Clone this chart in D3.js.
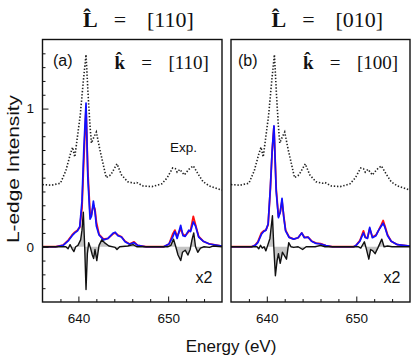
<!DOCTYPE html>
<html lang="en">
<head>
  <meta charset="UTF-8" />
  <title>L-edge Intensity</title>
  <script src="https://d3js.org/d3.v7.min.js"></script>
  <style>
    body { margin: 0; background: #fff; }
    svg { display: block; background: #fff; }
    .sans { font-family: "Liberation Sans", Arial, sans-serif; fill: #111; }
    .serif { font-family: "Liberation Serif", "Times New Roman", serif; fill: #111; }
    .tick text { font-family: "Liberation Sans", Arial, sans-serif; font-size: 13.5px; fill: #111; }
    .tick line { stroke: #111; stroke-width: 1; }
  </style>
</head>
<body>
<svg id="chart" width="415" height="359"></svg>
<script>
  // energies (eV) and intensities
  const expData = [
    [636,0.45],[637,0.445],[638,0.46],[638.6,0.55],[639.1,0.67],[639.35,0.72],[639.6,0.65],
    [640.2,0.95],[640.55,1.2],[640.85,1.39],[641.1,1.08],[641.3,0.87],[641.45,0.75],[641.7,0.79],
    [642.0,0.83],[642.4,0.7],[643.1,0.5],[643.6,0.52],[644.3,0.6],[644.8,0.52],[645.5,0.47],
    [646.2,0.46],[646.5,0.465],[647.2,0.44],[648.2,0.435],[649.3,0.455],[649.9,0.5],[650.5,0.57],
    [650.8,0.565],[651.0,0.54],[651.3,0.56],[651.8,0.52],[652.3,0.56],[652.8,0.585],[653.3,0.53],
    [653.9,0.47],[654.6,0.44],[656,0.41]
  ];

  const blueA = [
    [636,0],[637.5,0],[638.3,0.01],[638.9,0.045],[639.3,0.08],[639.6,0.1],[639.9,0.115],[640.15,0.145],
    [640.4,0.33],[640.6,0.7],[640.85,1.04],[641.05,0.5],[641.3,0.2],[641.45,0.22],[641.67,0.33],
    [641.85,0.25],[642.0,0.15],[642.3,0.085],[642.8,0.05],[643.3,0.06],[643.9,0.1],[644.1,0.105],
    [644.4,0.08],[644.8,0.07],[645.2,0.036],[645.7,0.018],[646.2,0.03],[646.6,0.01],[647.5,0],
    [649.5,0],[650.1,0.02],[650.5,0.07],[650.75,0.11],[651.0,0.06],[651.4,0.155],[651.65,0.08],
    [651.9,0.075],[652.3,0.12],[652.5,0.11],[652.8,0.18],[653.05,0.15],[653.4,0.07],[653.9,0.04],
    [654.6,0.02],[656,0.005]
  ];
  const redA = [
    [636,0],[637.5,0],[638.3,0.012],[638.9,0.05],[639.3,0.085],[639.6,0.105],[639.9,0.12],[640.15,0.14],
    [640.4,0.28],[640.6,0.62],[640.85,1.0],[641.05,0.55],[641.3,0.24],[641.45,0.23],[641.67,0.3],
    [641.85,0.27],[642.0,0.18],[642.3,0.09],[642.8,0.055],[643.3,0.06],[643.9,0.095],[644.1,0.1],
    [644.4,0.085],[644.8,0.072],[645.2,0.04],[645.7,0.02],[646.2,0.035],[646.6,0.01],[647.5,0],
    [649.5,0],[650.1,0.02],[650.5,0.09],[650.75,0.12],[651.0,0.075],[651.4,0.13],[651.65,0.09],
    [651.9,0.08],[652.3,0.11],[652.5,0.12],[652.8,0.22],[653.05,0.16],[653.4,0.075],[653.9,0.04],
    [654.6,0.02],[656,0.005]
  ];
  const diffA = [
    [636,0],[638.6,0],[638.85,-0.015],[639.07,0.015],[639.3,-0.015],[639.5,-0.035],[639.7,0],
    [639.95,0.01],[640.25,0.05],[640.4,0.12],[640.55,0.25],[640.7,0],[640.85,-0.31],[641.0,-0.05],
    [641.15,0.03],[641.35,-0.01],[641.55,-0.06],[641.7,-0.085],[641.85,-0.02],[642.05,-0.1],
    [642.3,0.01],[642.6,0.05],[642.9,0.03],[643.4,0.005],[644.1,-0.005],[644.3,-0.02],[644.6,0],
    [645.5,0.005],[646.1,0.015],[646.5,0],[650.0,0],[650.3,0.01],[650.6,0.055],[650.85,0],
    [651.1,-0.06],[651.4,-0.1],[651.6,-0.04],[651.9,-0.025],[652.2,-0.06],[652.45,-0.02],
    [652.65,0.05],[652.85,0.1],[653.05,0],[653.3,-0.04],[653.6,-0.01],[654.0,0],[654.6,-0.005],
    [655.0,0.005],[656,0]
  ];

  const blueB = [
    [636,0],[638.3,0],[638.7,0.01],[639.0,0.03],[639.4,0.09],[639.65,0.11],[639.9,0.12],[640.15,0.165],
    [640.4,0.43],[640.6,0.7],[640.8,0.875],[641.05,0.4],[641.3,0.21],[641.5,0.25],[641.7,0.35],
    [641.9,0.21],[642.1,0.115],[642.5,0.067],[643.0,0.055],[643.5,0.065],[643.9,0.1],[644.2,0.065],
    [644.6,0.07],[645.0,0.04],[645.5,0.024],[646.0,0.02],[646.6,0.008],[647.3,0],[649.7,0],
    [649.95,0.008],[650.4,0.04],[650.8,0.1],[651.0,0.067],[651.25,0.06],[651.5,0.14],[651.8,0.065],
    [652.2,0.08],[652.5,0.12],[652.8,0.15],[653.0,0.17],[653.2,0.14],[653.5,0.08],[653.9,0.04],
    [654.6,0.015],[656,0.005]
  ];
  const redB = [
    [636,0],[638.3,0],[638.7,0.012],[639.0,0.035],[639.4,0.1],[639.65,0.115],[639.9,0.12],[640.15,0.16],
    [640.4,0.42],[640.6,0.69],[640.8,0.87],[641.05,0.42],[641.3,0.22],[641.5,0.25],[641.7,0.33],
    [641.9,0.22],[642.1,0.12],[642.5,0.07],[643.0,0.055],[643.5,0.065],[643.9,0.1],[644.2,0.068],
    [644.6,0.07],[645.0,0.042],[645.5,0.026],[646.0,0.022],[646.6,0.008],[647.3,0],[649.7,0],
    [649.95,0.008],[650.4,0.045],[650.8,0.115],[651.0,0.07],[651.25,0.065],[651.5,0.13],[651.8,0.07],
    [652.2,0.085],[652.5,0.12],[652.8,0.16],[653.0,0.19],[653.2,0.15],[653.5,0.085],[653.9,0.04],
    [654.6,0.015],[656,0.005]
  ];
  const diffB = [
    [636,0],[638.9,0],[639.1,-0.015],[639.3,0.01],[639.5,-0.01],[639.7,0],[639.9,-0.03],[640.1,0.01],
    [640.35,0.06],[640.63,0.224],[640.78,0],[640.96,-0.21],[641.15,-0.1],[641.3,-0.05],[641.5,-0.12],
    [641.75,-0.04],[642.2,-0.09],[642.45,0.03],[642.7,0],[643.0,-0.005],[643.5,0],[644.0,-0.02],
    [644.4,0],[645.4,0],[646.0,0.01],[646.5,0],[650.2,0],[650.5,-0.01],[650.9,0.036],[651.1,-0.01],
    [651.4,-0.09],[651.6,-0.02],[651.85,-0.03],[652.1,-0.05],[652.4,-0.01],[652.85,0.055],
    [653.1,0],[653.5,0.005],[654,0],[656,0]
  ];

  const titles = ["[110]", "[010]"];
  const kDirs = ["[110]", "[100]"];
  const panelTags = ["(a)", "(b)"];
  const xMajor = [640, 650];
  const xMinor = [638, 642, 644, 646, 648, 652, 654];
  const yMajor = [0, 1];
  const yMinor = d3.range(-3, 15).filter(v => v !== 0 && v !== 10).map(v => v / 10);

  const svg = d3.select("#chart");
  const plotTop = 39.5, plotBottom = 302;

  const panels = [
    { left: 42.5, right: 222, blue: blueA, red: redA, diff: diffA, tagX: 10.5, showY: true, exp: true },
    { left: 231, right: 410, blue: blueB, red: redB, diff: diffB, tagX: 7, showY: false, exp: false }
  ];

  const y = d3.scaleLinear().domain([-0.4, 1.5]).range([plotBottom, plotTop]);

  panels.forEach((p, i) => {
    const x = d3.scaleLinear().domain([636, 656]).range([p.left, p.right]);

    svg.append("clipPath").attr("id", "clip" + i)
      .append("rect")
        .attr("x", p.left).attr("y", plotTop)
        .attr("width", p.right - p.left).attr("height", plotBottom - plotTop);

    const g = svg.append("g").attr("clip-path", `url(#clip${i})`);

    const line = d3.line().x(d => x(d[0])).y(d => y(d[1]));
    const area = d3.area().x(d => x(d[0])).y0(y(0)).y1(d => y(d[1]));

    g.append("path").datum(p.diff)
      .attr("d", area).attr("fill", "#c4c4c4");

    g.append("path").datum(p.red)
      .attr("d", line).attr("fill", "none")
      .attr("stroke", "#ff1010").attr("stroke-width", 1.8).attr("stroke-linejoin", "round");

    g.append("path").datum(p.blue)
      .attr("d", line).attr("fill", "none")
      .attr("stroke", "#1010ff").attr("stroke-width", 1.7).attr("stroke-linejoin", "round");

    g.append("path").datum(p.diff)
      .attr("d", line).attr("fill", "none")
      .attr("stroke", "#111").attr("stroke-width", 1.4).attr("stroke-linejoin", "round");

    g.append("path").datum(expData)
      .attr("d", line).attr("fill", "none")
      .attr("stroke", "#222").attr("stroke-width", 1.6)
      .attr("stroke-dasharray", "1.4 1.8");

    // ticks pointing inward
    svg.append("g").attr("transform", `translate(0,${plotBottom})`)
      .call(d3.axisBottom(x).tickValues(xMinor).tickSize(-3).tickFormat(""))
      .call(a => a.select(".domain").remove());
    svg.append("g").attr("transform", `translate(0,${plotBottom})`)
      .call(d3.axisBottom(x).tickValues(xMajor).tickSize(-5.5).tickPadding(11.5).tickFormat(d3.format("d")))
      .call(a => a.select(".domain").remove());

    if (p.showY) {
      svg.append("g").attr("transform", `translate(${p.left},0)`)
        .call(d3.axisLeft(y).tickValues(yMinor).tickSize(-3).tickFormat(""))
        .call(a => a.select(".domain").remove());
      svg.append("g").attr("transform", `translate(${p.left},0)`)
        .call(d3.axisLeft(y).tickValues(yMajor).tickSize(-6).tickPadding(8.5).tickFormat(d3.format("d")))
        .call(a => a.select(".domain").remove());
    }

    svg.append("rect")
      .attr("x", p.left).attr("y", plotTop)
      .attr("width", p.right - p.left).attr("height", plotBottom - plotTop)
      .attr("fill", "none").attr("stroke", "#111").attr("stroke-width", 1.4);

    // title above the panel:  L-hat = [..]
    const tx = p.left + 40.5;
    svg.append("text").attr("class", "serif")
      .attr("x", tx).attr("y", 27).attr("font-size", 22).attr("font-weight", "bold").text("L\u0302");
    svg.append("text").attr("class", "serif")
      .attr("x", tx + 37).attr("y", 27).attr("text-anchor", "middle")
      .attr("font-size", 22).text("=");
    svg.append("text").attr("class", "serif")
      .attr("x", tx + 64).attr("y", 27).attr("font-size", 22).text(titles[i]);

    // k-hat label in the panel
    svg.append("text").attr("class", "serif")
      .attr("x", p.left + 72).attr("y", 69).attr("font-size", 19).attr("font-weight", "bold").text("k\u0302");
    svg.append("text").attr("class", "serif")
      .attr("x", p.left + 104).attr("y", 69).attr("text-anchor", "middle")
      .attr("font-size", 19).text("=");
    svg.append("text").attr("class", "serif")
      .attr("x", p.left + 126).attr("y", 69).attr("font-size", 19).text(kDirs[i]);

    svg.append("text").attr("class", "sans")
      .attr("x", p.left + p.tagX).attr("y", 66).attr("font-size", 16).text(panelTags[i]);

    svg.append("text").attr("class", "sans")
      .attr("x", p.right - 9.5).attr("y", 283).attr("text-anchor", "end")
      .attr("font-size", 16).text("x2");

    if (p.exp) {
      svg.append("text").attr("class", "sans")
        .attr("x", 170).attr("y", 152).attr("font-size", 13.5).text("Exp.");
    }
  });

  svg.append("text").attr("class", "sans")
    .attr("x", 231).attr("y", 352).attr("text-anchor", "middle")
    .attr("font-size", 17).text("Energy (eV)");

  svg.append("text").attr("class", "sans")
    .attr("transform", "translate(19,169) rotate(-90)")
    .attr("text-anchor", "middle")
    .attr("font-size", 16).attr("textLength", 148).attr("lengthAdjust", "spacingAndGlyphs")
    .text("L-edge Intensity");
</script>
</body>
</html>
